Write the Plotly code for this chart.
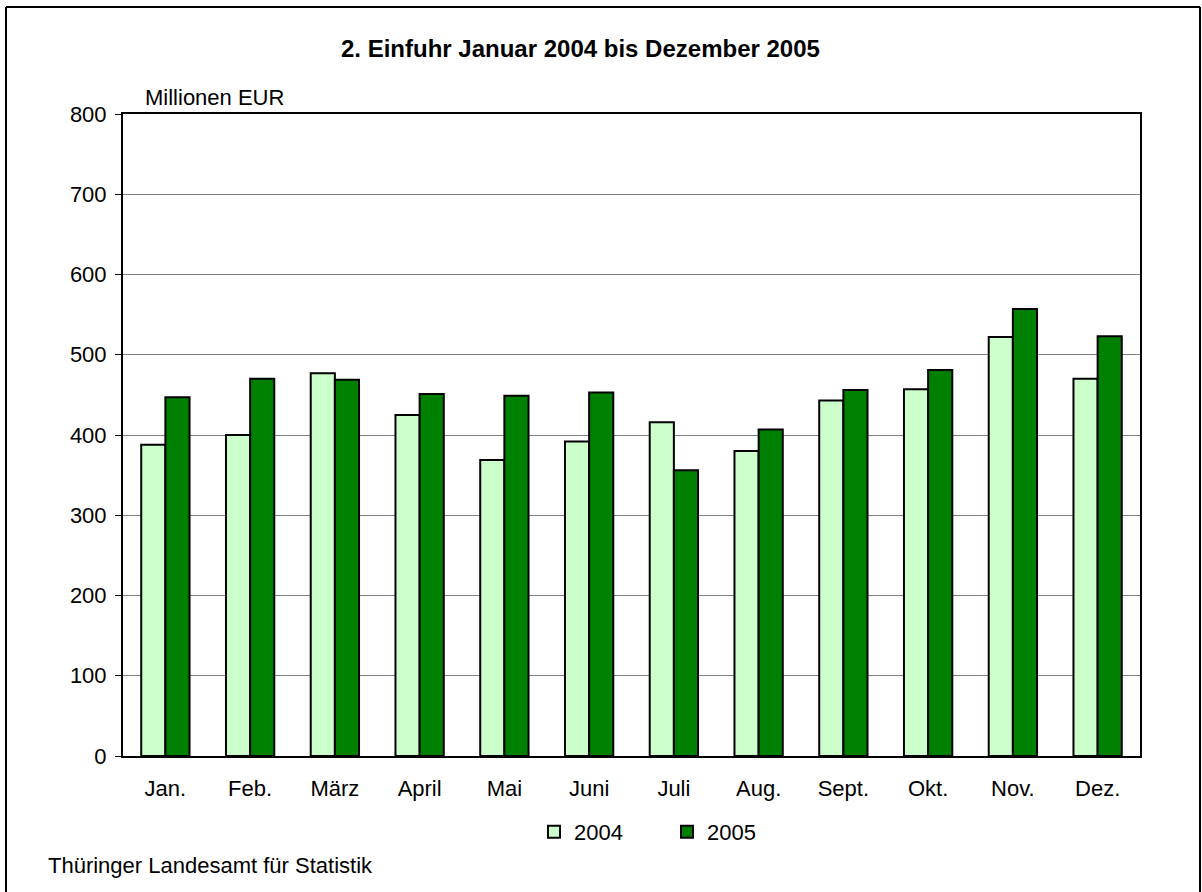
import plotly.graph_objects as go

months = ["Jan.", "Feb.", "März", "April", "Mai", "Juni", "Juli", "Aug.", "Sept.", "Okt.", "Nov.", "Dez."]
values_2004 = [388, 400, 477, 425, 369, 392, 416, 380, 443, 457, 522, 470]
values_2005 = [447, 470, 469, 451, 449, 453, 356, 407, 456, 481, 557, 523]
y_ticks = [0, 100, 200, 300, 400, 500, 600, 700, 800]

FONT = "Liberation Sans, Arial, sans-serif"

# pixel layout of the plot area
L, T, R, B = 123, 114, 1140, 756
W, H = 1202, 892
pw, ph = R - L, B - T

def px(x):
    return (x - L) / pw

def py(y):
    return (B - y) / ph

fig = go.Figure()
fig.add_trace(go.Bar(x=months, y=values_2004, name="2004",
                     marker=dict(color="#CCFFCC", line=dict(color="black", width=2))))
fig.add_trace(go.Bar(x=months, y=values_2005, name="2005",
                     marker=dict(color="#008000", line=dict(color="black", width=2))))

fig.update_layout(
    width=W, height=H,
    margin=dict(l=L, r=W - R, t=T, b=H - B, pad=0),
    paper_bgcolor="white", plot_bgcolor="white",
    barmode="group", bargap=0.43, bargroupgap=0,
    font=dict(family=FONT, size=22, color="black"),
    showlegend=True,
    legend=dict(orientation="h", x=px(534), y=py(832), xanchor="left", yanchor="middle",
                font=dict(size=22), itemwidth=30, entrywidth=88, entrywidthmode="pixels",
                tracegroupgap=0, bgcolor="rgba(0,0,0,0)"),
    xaxis=dict(showline=True, linecolor="black", linewidth=2, mirror=True,
               ticks="", tickfont=dict(size=22), ticklabelstandoff=12, showgrid=False),
    yaxis=dict(range=[0, 800], tickvals=y_ticks, showline=True, linecolor="black", linewidth=2,
               mirror=True, ticks="outside", ticklen=6, tickwidth=1, tickcolor="black",
               showgrid=True, gridcolor="#808080", gridwidth=1, tickfont=dict(size=22),
               ticklabelstandoff=4, zeroline=False),
)

fig.add_annotation(text="<b>2. Einfuhr Januar 2004 bis Dezember 2005</b>", xref="paper", yref="paper",
                   x=px(580), y=py(48), xanchor="center", yanchor="middle", showarrow=False,
                   font=dict(size=24, family=FONT))
fig.add_annotation(text="Millionen EUR", xref="paper", yref="paper",
                   x=px(143), y=py(97), xanchor="left", yanchor="middle", showarrow=False,
                   font=dict(size=22, family=FONT))
fig.add_annotation(text="Thüringer Landesamt für Statistik", xref="paper", yref="paper",
                   x=px(46), y=py(865), xanchor="left", yanchor="middle", showarrow=False,
                   font=dict(size=22, family=FONT))

# outer frame (open at the bottom)
frame = dict(type="line", xref="paper", yref="paper", line=dict(color="black", width=2))
fig.add_shape(**frame, x0=px(6), x1=px(1200), y0=py(7), y1=py(7))
fig.add_shape(**frame, x0=px(6), x1=px(6), y0=py(7), y1=py(H + 10))
fig.add_shape(**frame, x0=px(1200), x1=px(1200), y0=py(7), y1=py(H + 10))

fig.write_html("out.html", config={"displayModeBar": False},
               post_script="document.body.style.margin='0';document.body.style.overflow='hidden';")
